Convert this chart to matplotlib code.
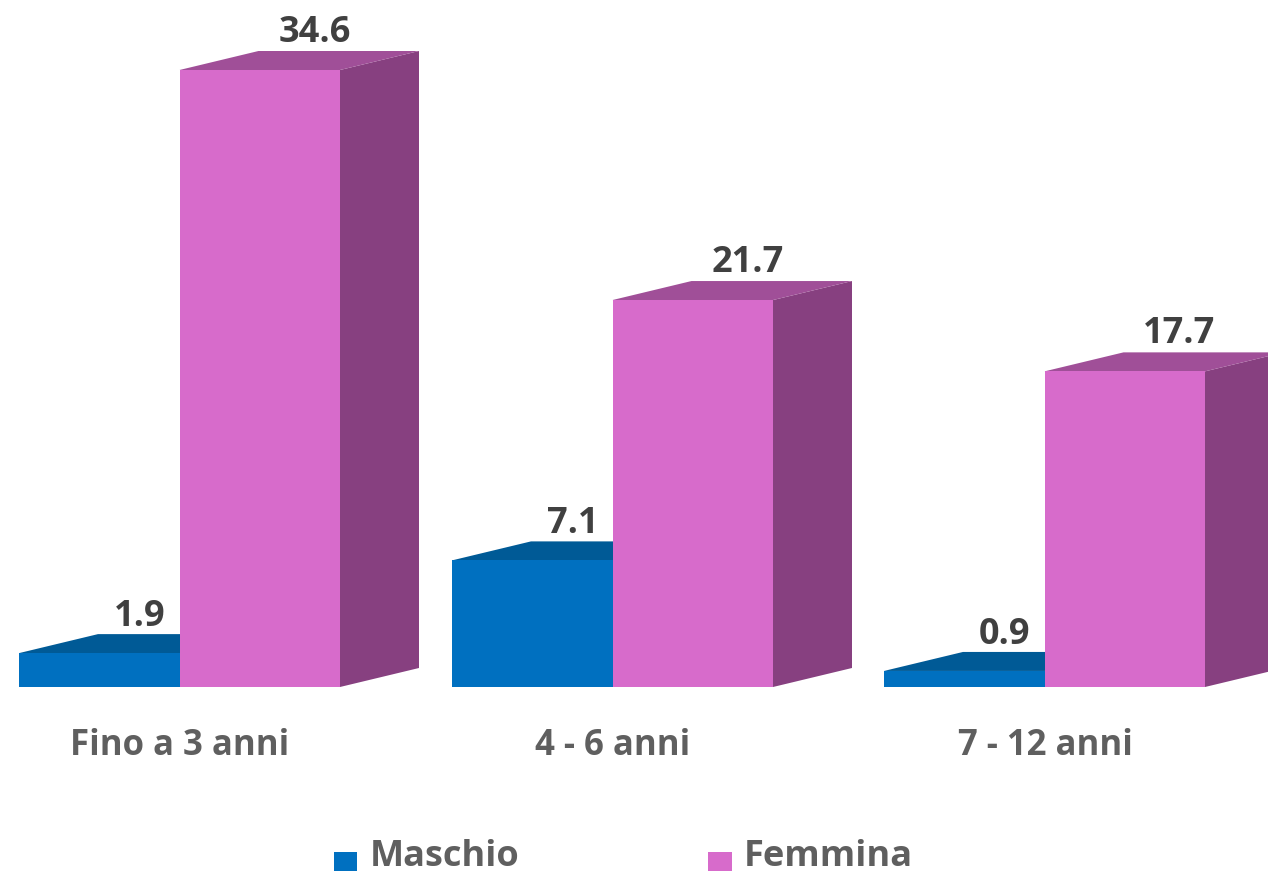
"""
Pseudo-3D grouped bars: Maschio / Femmina by age band.
"""
import matplotlib
matplotlib.use("Agg")
import matplotlib.pyplot as plt
from matplotlib.patches import Polygon, Rectangle

categories = ["Fino a 3 anni", "4 - 6 anni", "7 - 12 anni"]
maschio = [1.9, 7.1, 0.9]
femmina = [34.6, 21.7, 17.7]
series_names = ["Maschio", "Femmina"]

W, H = 1268, 875
BASE_Y = 687
PX_PER_UNIT = (687 - 70) / 34.6
BAR_W = 160.5
DX, DY = 79, 19
GROUP_X = [19, 452, 884]

plt.rcParams["font.family"] = ["Open Sans", "DejaVu Sans"]
fig = plt.figure(figsize=(W / 100, H / 100), dpi=100)
ax = fig.add_axes([0, 0, 1, 1])
ax.set_xlim(0, W)
ax.set_ylim(H, 0)
ax.axis("off")

text_col = "#404040"
label_col = "#5f5f5f"


def bar3d(x, value, front, top, side, z):
    h = value * PX_PER_UNIT
    y = BASE_Y - h
    ax.add_patch(Polygon([(x + BAR_W, BASE_Y), (x + BAR_W + DX, BASE_Y - DY),
                          (x + BAR_W + DX, y - DY), (x + BAR_W, y)],
                         fc=side, ec="none", zorder=z))
    ax.add_patch(Polygon([(x, y), (x + DX, y - DY), (x + BAR_W + DX, y - DY),
                          (x + BAR_W, y)], fc=top, ec="none", zorder=z))
    ax.add_patch(Rectangle((x, y), BAR_W, h, fc=front, ec="none", zorder=z))
    return y


for i, gx in enumerate(GROUP_X):
    y_m = bar3d(gx, maschio[i], "#0070C0", "#005A96", "#00508A", 2)
    y_f = bar3d(gx + BAR_W, femmina[i], "#D76BCB", "#A04F98", "#874080", 3)
    ax.text(gx + 121, y_m - 36, f"{maschio[i]}", ha="center", va="center",
            fontsize=26, fontweight="bold", color=text_col, zorder=5)
    ax.text(gx + BAR_W + 135, y_f - 37, f"{femmina[i]}", ha="center", va="center",
            fontsize=26, fontweight="bold", color=text_col, zorder=5)
    ax.text(gx + 161, 746, categories[i], ha="center", va="center",
            fontsize=25, fontweight="bold", color=label_col)

# legend
ax.add_patch(Rectangle((334, 852), 23, 19, fc="#0070C0", ec="none"))
ax.text(370, 866, series_names[0], ha="left", va="baseline", fontsize=26,
        fontweight="bold", color=label_col)
ax.add_patch(Rectangle((708, 852), 24, 19, fc="#D76BCB", ec="none"))
ax.text(744, 866, series_names[1], ha="left", va="baseline", fontsize=26,
        fontweight="bold", color=label_col)

fig.savefig("out.png", dpi=100, facecolor="white")
